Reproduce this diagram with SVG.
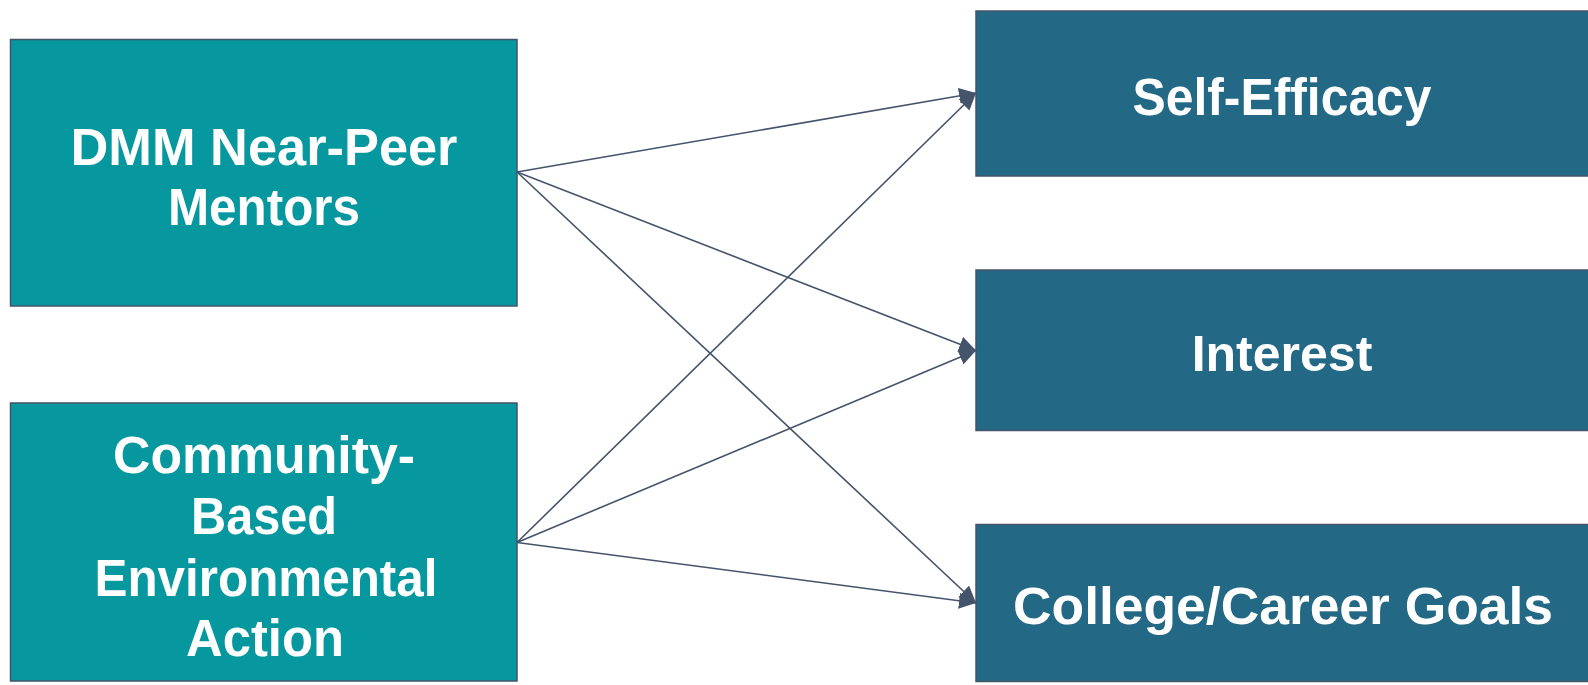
<svg xmlns="http://www.w3.org/2000/svg" width="1588" height="685" viewBox="0 0 1588 685">
  <style>
    .src { fill: #06979F; stroke: #44546A; stroke-width: 1.5; }
    .dst { fill: #236884; stroke: #44546A; stroke-width: 1.5; }
    .lbl { font-family: "Liberation Sans", Arial, sans-serif; font-weight: bold; font-size: 51px; fill: #FFFFFF; text-anchor: middle; }
    .link { stroke: #44546A; stroke-width: 1.6; fill: none; marker-end: url(#arrow); }
  </style>
  <defs>
    <marker id="arrow" markerUnits="userSpaceOnUse" markerWidth="18" markerHeight="16" refX="17" refY="8" orient="auto">
      <path d="M0,0 L17,8 L0,16 Z" fill="#44546A"/>
    </marker>
  </defs>

  <rect width="1588" height="685" fill="#FFFFFF"/>

  <!-- source factors -->
  <g id="node-mentors">
    <rect class="src" x="10.5" y="39.5" width="506.5" height="266.5"/>
    <text class="lbl" x="264" y="164.5" textLength="387" lengthAdjust="spacingAndGlyphs">DMM Near-Peer</text>
    <text class="lbl" x="264" y="225" textLength="192" lengthAdjust="spacingAndGlyphs">Mentors</text>
  </g>
  <g id="node-action">
    <rect class="src" x="10.5" y="403" width="506.5" height="278"/>
    <text class="lbl" x="264" y="473" textLength="302" lengthAdjust="spacingAndGlyphs">Community-</text>
    <text class="lbl" x="264" y="534" textLength="146" lengthAdjust="spacingAndGlyphs">Based</text>
    <text class="lbl" x="266" y="596" textLength="343" lengthAdjust="spacingAndGlyphs">Environmental</text>
    <text class="lbl" x="265" y="656" textLength="158" lengthAdjust="spacingAndGlyphs">Action</text>
  </g>

  <!-- outcomes -->
  <g id="node-efficacy">
    <rect class="dst" x="976" y="11" width="614" height="165"/>
    <text class="lbl" x="1282" y="114.5" textLength="299" lengthAdjust="spacingAndGlyphs">Self-Efficacy</text>
  </g>
  <g id="node-interest">
    <rect class="dst" x="976" y="270" width="614" height="160.5"/>
    <text class="lbl" x="1282" y="370.5" style="font-size:50px">Interest</text>
  </g>
  <g id="node-goals">
    <rect class="dst" x="976" y="524.5" width="614" height="157"/>
    <text class="lbl" x="1283" y="624" textLength="540" lengthAdjust="spacingAndGlyphs">College/Career Goals</text>
  </g>

  <!-- connectors -->
  <g id="connectors">
    <line class="link" x1="517" y1="172" x2="976" y2="93"/>
    <line class="link" x1="517" y1="172" x2="976" y2="350.5"/>
    <line class="link" x1="517" y1="172" x2="976" y2="603"/>
    <line class="link" x1="517" y1="542.5" x2="976" y2="93"/>
    <line class="link" x1="517" y1="542.5" x2="976" y2="350.5"/>
    <line class="link" x1="517" y1="542.5" x2="976" y2="603"/>
  </g>
</svg>
